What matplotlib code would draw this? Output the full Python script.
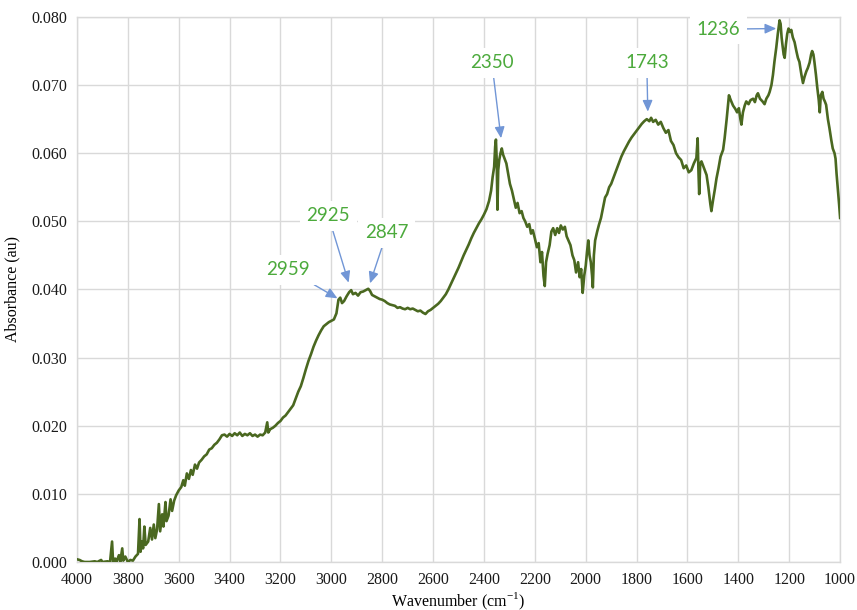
import matplotlib
matplotlib.use("Agg")
import matplotlib.pyplot as plt

# spectrum (wavenumber in cm-1, absorbance in au)
wavenumber = [
    4000, 3990, 3980, 3970, 3950, 3930, 3920, 3905, 3900, 3880, 3870, 3862, 3858, 3850, 3845, 3835,
    3830, 3822, 3818, 3810, 3800, 3790, 3780,
    3770, 3760, 3754, 3750, 3745, 3740, 3735, 3730, 3720, 3712, 3705, 3698, 3692, 3685, 3678, 3673,
    3665, 3660, 3652, 3648, 3640, 3632, 3626, 3618, 3610, 3600,
    3590, 3582, 3576, 3568, 3560, 3552, 3545, 3536, 3528, 3520, 3510, 3500, 3490, 3480, 3470, 3460,
    3450, 3440, 3430, 3420, 3410, 3400, 3390, 3380, 3370, 3360, 3350, 3340, 3330, 3320, 3310, 3300,
    3290, 3280, 3270, 3260, 3252, 3248, 3240, 3230, 3220, 3210, 3200, 3190, 3180, 3170, 3160, 3150,
    3140, 3130, 3120, 3110, 3100, 3090, 3080, 3070, 3060, 3050, 3040, 3030, 3020, 3010, 3000, 2990,
    2980, 2972, 2965, 2958, 2950, 2940, 2930, 2922, 2915, 2905, 2895, 2885, 2875, 2865, 2855, 2848,
    2840, 2830, 2820, 2810, 2800, 2790, 2780, 2770, 2760, 2750, 2740, 2730, 2720, 2710, 2700, 2690,
    2680, 2670, 2660, 2650, 2640, 2630, 2620, 2610, 2600, 2590, 2580, 2570, 2560, 2550, 2540, 2530,
    2520, 2510, 2500, 2490, 2480, 2470, 2460, 2450, 2440, 2430, 2420, 2410, 2400, 2390, 2380, 2372,
    2366, 2360, 2356, 2353, 2350, 2347, 2344, 2340, 2335, 2330, 2325, 2320, 2312, 2305, 2298, 2290,
    2282, 2275, 2268, 2260, 2252, 2245, 2238, 2230, 2222, 2215, 2208, 2200, 2192, 2185, 2178, 2172,
    2166, 2161, 2156, 2150, 2142, 2135, 2128, 2120, 2112, 2105, 2098, 2090, 2082, 2075, 2068, 2060,
    2052, 2045, 2038, 2030, 2024, 2018, 2012, 2006, 2000, 1995, 1990, 1985, 1980, 1975, 1972, 1968,
    1963, 1955, 1948, 1940, 1932, 1924, 1916, 1908, 1900, 1890, 1880, 1870, 1860, 1850, 1840, 1830,
    1820, 1810, 1800, 1790, 1780, 1770, 1760, 1750, 1743, 1735, 1725, 1715, 1705, 1695, 1685, 1675,
    1665, 1655, 1645, 1635, 1625, 1615, 1605, 1595, 1585, 1575, 1565, 1560, 1557, 1554, 1550, 1545,
    1535, 1525, 1518, 1510, 1506, 1500, 1492, 1486, 1478, 1470, 1460, 1454, 1446, 1437, 1430, 1421,
    1412, 1405, 1398, 1392, 1388, 1382, 1375, 1369, 1360, 1352, 1342, 1335, 1328, 1323, 1315, 1305,
    1297, 1290, 1282, 1277, 1270, 1264, 1258, 1251, 1245, 1238, 1234, 1230, 1227, 1222, 1218, 1213,
    1208, 1203, 1197, 1192, 1186, 1179, 1172, 1166, 1160, 1152, 1146, 1140, 1133, 1127, 1120, 1114,
    1110, 1105, 1101, 1095, 1090, 1084, 1080, 1076, 1070, 1065, 1060, 1055, 1048, 1042, 1035, 1029,
    1022, 1018, 1014, 1009, 1004, 1000,
]
absorbance = [
    0.0004, 0.0003, 0.0001, 0.0000, 0.0000, 0.0001, 0.0000, 0.0003, 0.0000, 0.0001, 0.0000, 0.0030,
    0.0000, 0.0005, 0.0000, 0.0010, 0.0000, 0.0020, 0.0002, 0.0008, 0.0000, 0.0003, 0.0002,
    0.0008, 0.0012, 0.0063, 0.0015, 0.0030, 0.0020, 0.0052, 0.0025, 0.0030, 0.0050, 0.0033, 0.0055,
    0.0035, 0.0048, 0.0085, 0.0045, 0.0070, 0.0052, 0.0088, 0.0060, 0.0068, 0.0092, 0.0075, 0.0090,
    0.0098, 0.0105,
    0.0110, 0.0120, 0.0112, 0.0130, 0.0122, 0.0135, 0.0128, 0.0143, 0.0137, 0.0146, 0.0150, 0.0155,
    0.0158, 0.0165, 0.0167, 0.0172, 0.0175, 0.0180, 0.0186, 0.0187, 0.0184, 0.0188, 0.0185, 0.0189,
    0.0186, 0.0190, 0.0185, 0.0188, 0.0186, 0.0189, 0.0185, 0.0187, 0.0184, 0.0187, 0.0186, 0.0190,
    0.0205, 0.0190, 0.0195, 0.0197, 0.0200, 0.0204, 0.0207, 0.0212, 0.0215, 0.0220, 0.0225, 0.0230,
    0.0240, 0.0250, 0.0258, 0.0270, 0.0283, 0.0295, 0.0305, 0.0316, 0.0325, 0.0333, 0.0340, 0.0346,
    0.0349, 0.0352, 0.0354, 0.0356, 0.0365, 0.0385, 0.0388, 0.0380, 0.0383, 0.0390, 0.0396, 0.0399,
    0.0393, 0.0395, 0.0391, 0.0396, 0.0397, 0.0399, 0.0401, 0.0398, 0.0392, 0.0390, 0.0388, 0.0386,
    0.0385, 0.0383, 0.0380, 0.0378, 0.0377, 0.0376, 0.0373, 0.0374, 0.0372, 0.0371, 0.0373, 0.0371,
    0.0372, 0.0370, 0.0368, 0.0369, 0.0366, 0.0364, 0.0368, 0.0370, 0.0373, 0.0376, 0.0379, 0.0383,
    0.0388, 0.0393, 0.0400, 0.0408, 0.0416, 0.0424, 0.0432, 0.0441, 0.0450, 0.0458, 0.0466, 0.0475,
    0.0483, 0.0490, 0.0497, 0.0503, 0.0510, 0.0518, 0.0530, 0.0545, 0.0565, 0.0580, 0.0610, 0.0620,
    0.0590, 0.0517, 0.0575, 0.0590, 0.0600, 0.0607, 0.0598, 0.0593, 0.0585, 0.0570, 0.0555, 0.0545,
    0.0532, 0.0520, 0.0527, 0.0512, 0.0515, 0.0505, 0.0500, 0.0492, 0.0496, 0.0482, 0.0487, 0.0475,
    0.0462, 0.0468, 0.0440, 0.0455, 0.0420, 0.0405, 0.0440, 0.0452, 0.0465, 0.0485, 0.0490, 0.0480,
    0.0490, 0.0483, 0.0494, 0.0488, 0.0492, 0.0478, 0.0472, 0.0465, 0.0450, 0.0443, 0.0425, 0.0440,
    0.0418, 0.0430, 0.0395, 0.0420, 0.0435, 0.0455, 0.0472, 0.0450, 0.0440, 0.0420, 0.0403, 0.0450,
    0.0472, 0.0485, 0.0495, 0.0505, 0.0520, 0.0535, 0.0540, 0.0550, 0.0555, 0.0565, 0.0575, 0.0585,
    0.0595, 0.0603, 0.0610, 0.0617, 0.0623, 0.0628, 0.0633, 0.0638, 0.0643, 0.0647, 0.0650, 0.0647,
    0.0652, 0.0646, 0.0649, 0.0642, 0.0646, 0.0637, 0.0630, 0.0634, 0.0618, 0.0612, 0.0600, 0.0594,
    0.0590, 0.0578, 0.0582, 0.0572, 0.0575, 0.0585, 0.0593, 0.0622, 0.0575, 0.0540, 0.0585, 0.0588,
    0.0578, 0.0568, 0.0550, 0.0525, 0.0515, 0.0530, 0.0548, 0.0563, 0.0578, 0.0595, 0.0605, 0.0622,
    0.0650, 0.0685, 0.0678, 0.0670, 0.0665, 0.0660, 0.0666, 0.0650, 0.0642, 0.0660, 0.0670, 0.0676,
    0.0672, 0.0678, 0.0680, 0.0675, 0.0685, 0.0688, 0.0680, 0.0676, 0.0672, 0.0680, 0.0685, 0.0690,
    0.0700, 0.0715, 0.0735, 0.0755, 0.0775, 0.0795, 0.0790, 0.0770, 0.0760, 0.0745, 0.0740, 0.0760,
    0.0775, 0.0783, 0.0778, 0.0781, 0.0770, 0.0763, 0.0750, 0.0740, 0.0734, 0.0715, 0.0703, 0.0712,
    0.0720, 0.0725, 0.0733, 0.0745, 0.0750, 0.0745, 0.0734, 0.0715, 0.0697, 0.0678, 0.0660, 0.0685,
    0.0690, 0.0680, 0.0676, 0.0671, 0.0650, 0.0637, 0.0620, 0.0607, 0.0600, 0.0592, 0.0570, 0.0548,
    0.0525, 0.0505,
]

# peak labels: text, arrow tip (wn, abs), text position (wn, abs)
peak_labels = ["2959", "2925", "2847", "2350", "1743", "1236"]
tip_wn = [2976, 2932, 2848, 2333, 1756, 1251]
tip_abs = [0.0387, 0.0410, 0.0409, 0.0622, 0.0661, 0.0783]
text_wn = [3169, 3012, 2782, 2369, 1760, 1478]
text_abs = [0.0429, 0.0508, 0.0483, 0.0733, 0.0733, 0.0782]

line_color = "#4a6820"
grid_color = "#d9d9d9"
label_color = "#4caa3c"
arrow_color = "#7196d6"

plt.rcParams["font.family"] = ["Liberation Serif", "DejaVu Serif"]

fig = plt.figure(figsize=(8.57, 6.10), dpi=100)
ax = fig.add_axes([0.0898, 0.0787, 0.8905, 0.8935])

ax.plot(wavenumber, absorbance, color=line_color, lw=1.9, zorder=3)

ax.set_xlim(4000, 1000)
ax.set_ylim(0, 0.080)
ax.set_xticks(range(4000, 999, -200))
ax.set_yticks([i / 1000 for i in range(0, 81, 10)])
ax.set_yticklabels(["%.3f" % (i / 1000) for i in range(0, 81, 10)])
ax.tick_params(length=0, labelsize=11.5, colors="#1a1a1a", pad=7)
ax.grid(True, color=grid_color, lw=1.0, zorder=0)
for s in ax.spines.values():
    s.set_color(grid_color)
    s.set_linewidth(1.0)

ax.set_xlabel(r"Wavenumber (cm$^{\mathregular{-1}}$)", fontsize=11.5, labelpad=2)
ax.set_ylabel("Absorbance (au)", fontsize=11.5, labelpad=8)

for lab, tx, ty, px, py in zip(peak_labels, tip_wn, tip_abs, text_wn, text_abs):
    ax.annotate(lab, xy=(tx, ty), xytext=(px, py), ha="center", va="center",
                fontsize=13.5, color=label_color, family=["Lato", "DejaVu Sans"],
                bbox=dict(boxstyle="square,pad=0.35", fc="white", ec="none"),
                arrowprops=dict(arrowstyle="-|>,head_length=0.5,head_width=0.22",
                                color=arrow_color, lw=1.0, shrinkA=0, shrinkB=0),
                zorder=5)

fig.savefig("out.png", dpi=100)
